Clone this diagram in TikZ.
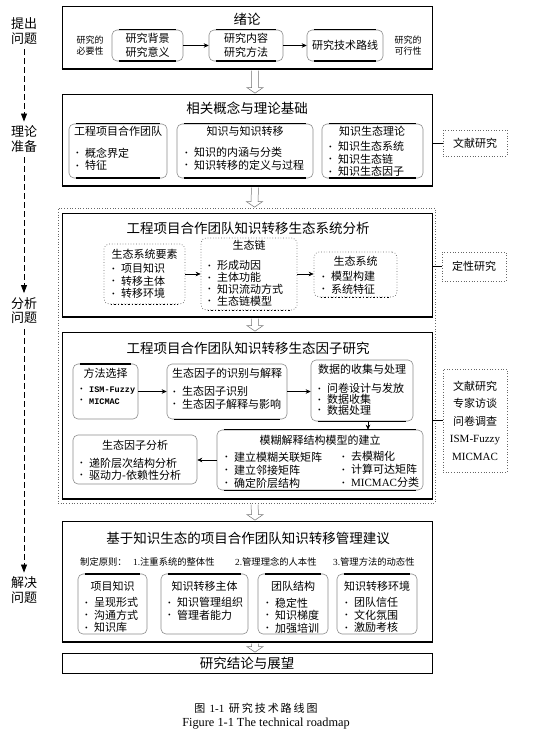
\documentclass[tikz,border=0pt]{standalone}
\usepackage{fontspec}
\setmainfont{Noto Sans CJK SC}
\newfontfamily\lat{Liberation Serif}
\newfontfamily\mono{Liberation Mono}
\newfontfamily\cjkwide[LetterSpace=18]{Noto Sans CJK SC}
\usetikzlibrary{fit,arrows.meta,calc}

\tikzset{
 sec/.style={draw=black, line width=0.7pt, inner sep=0pt},
 sub/.style={draw=black!45, rounded corners=5pt, line width=0.6pt, inner sep=0pt},
 dsub/.style={draw=black!60, dotted, rounded corners=5pt, line width=0.7pt, inner sep=0pt},
 ext/.style={draw=black!60, dotted, line width=0.7pt, inner sep=0pt},
 outerdot/.style={draw=black!60, dotted, line width=0.7pt, inner sep=0pt},
 ttl/.style={font=\fontsize{13.5}{15}\selectfont, inner sep=0pt},
 stl/.style={font=\fontsize{11}{13}\selectfont, inner sep=0pt},
 itm/.style={font=\fontsize{11}{12.5}\selectfont, align=left, anchor=north west, inner sep=0pt},
 sml/.style={font=\fontsize{9}{11}\selectfont, align=center, inner sep=0pt},
 lbl/.style={font=\fontsize{13}{14.5}\selectfont, align=center, inner sep=2pt},
 arr/.style={-{Stealth[length=5pt,width=4.5pt]}, line width=0.6pt},
 flow/.style={dash pattern=on 6pt off 3pt, line width=0.8pt, -{Triangle[length=8pt,width=6pt]}, shorten <=3pt, shorten >=2pt},
 holarrow/.style={draw=black!55, fill=white, line width=0.5pt},
 link/.style={line width=0.8pt},
 blink/.style={line width=1.6pt},
 heavy/.style={line width=1.8pt},
}
\newcommand\bx[6]{\node[#1, fit={(#3,#4) (#5,#6)}] (#2) {};}
\newcommand\topl[2][1.2pt]{\draw[line width=#1] ([xshift=7pt]#2.north west) -- ([xshift=-7pt]#2.north east);}
\newcommand\botl[2][1.6pt]{\draw[line width=#1] ([xshift=7pt]#2.south west) -- ([xshift=-7pt]#2.south east);}
\newcommand\dbotl[1]{\draw[line width=1.5pt, dotted] ([xshift=7pt]#1.south west) -- ([xshift=-7pt]#1.south east);}
\newcommand\hollowarrow[2]{\draw[holarrow] ([xshift=4.5pt,yshift=-1.2pt]#1.south) -- ([xshift=4.5pt,yshift=6pt]#2.north) -- ([xshift=0pt,yshift=6pt]#2.north) -- ([xshift=8pt,yshift=0.5pt]#2.north) -- ([xshift=16pt,yshift=6pt]#2.north) -- ([xshift=11.5pt,yshift=6pt]#2.north) -- ([xshift=11.5pt,yshift=-1.2pt]#1.south);}
\newcommand\bu{\makebox[9pt][l]{\raisebox{1.6pt}{\fontsize{7.5}{7.5}\selectfont\lat\textbullet}}}

\begin{document}
\begin{tikzpicture}[x=1pt,y=-1pt]
\useasboundingbox (0,0) rectangle (541,735);

% ---------- left stage labels ----------
\node[lbl] (L1) at (24,31) {提出\\问题};
\node[lbl] (L2) at (24,139) {理论\\准备};
\node[lbl] (L3) at (24,310.5) {分析\\问题};
\node[lbl] (L4) at (24,590) {解决\\问题};
\draw[flow] (L1.south) -- (L2.north);
\draw[flow] (L2.south) -- (L3.north);
\draw[flow] (L3.south) -- (L4.north);

% ---------- section 1 ----------
\bx{sec}{s1}{62}{6}{432}{69}
\draw[heavy] (s1.south west) -- (s1.south east);
\node[ttl] (t1) at (247,19) {绪论};
\node[sml] (n1a) at (90,45.5) {研究的\\必要性};
\bx{sub}{b11}{112}{30}{183}{61}\topl{b11}\botl{b11}
\node[stl, align=center, font=\fontsize{11}{14}\selectfont] (x11) at (b11) {研究背景\\研究意义};
\bx{sub}{b12}{209}{30}{283}{61}\topl{b12}\botl{b12}
\node[stl, align=center, font=\fontsize{11}{14}\selectfont] (x12) at (b12) {研究内容\\研究方法};
\bx{sub}{b13}{307}{30}{383}{61}\topl{b13}\botl{b13}
\node[stl] (x13) at (b13) {研究技术路线};
\node[sml] (n1b) at (408,45.5) {研究的\\可行性};
\draw[arr] (b11.east) -- (b12.west);
\draw[arr] (b12.east) -- (b13.west);

% ---------- section 2 ----------
\bx{sec}{s2}{62}{94}{432}{186}
\draw[heavy] (s2.south west) -- (s2.south east);
\node[ttl] (t2) at (247,108) {相关概念与理论基础};
\bx{sub}{b21}{69}{124}{167}{178}\topl[0.9pt]{b21}\botl{b21}
\node[stl] (x21) at (118,131) {工程项目合作团队};
\node[itm] (i21) at (76,147.5) {\bu 概念界定\\\bu 特征};
\bx{sub}{b22}{177}{124}{313}{178}\topl[0.9pt]{b22}\botl{b22}
\node[stl] (x22) at (245,131) {知识与知识转移};
\node[itm] (i22) at (185,147.5) {\bu 知识的内涵与分类\\\bu 知识转移的定义与过程};
\bx{sub}{b23}{322}{124}{423}{178}\topl[0.9pt]{b23}\botl{b23}
\node[stl] (x23) at (372,131) {知识生态理论};
\node[itm] (i23) at (329,141.5) {\bu 知识生态系统\\\bu 知识生态链\\\bu 知识生态因子};
\bx{ext}{wx}{443}{130}{507}{156}
\node[stl] (wxt) at (wx) {文献研究};
\draw[link] (wx.west) -- (wx.west -| s2.east);

% ---------- section 3 (dotted group) ----------
\bx{outerdot}{s3}{58}{208}{435}{503}
\bx{sec}{s3a}{62}{213}{432}{317}
\draw[heavy] (s3a.south west) -- (s3a.south east);
\node[ttl] (t3a) at (248,228) {工程项目合作团队知识转移生态系统分析};
\bx{dsub}{b31}{104}{244}{185}{304}\dbotl{b31}
\node[stl] (x31) at (144.5,254) {生态系统要素};
\node[itm] (i31) at (112,263.5) {\bu 项目知识\\\bu 转移主体\\\bu 转移环境};
\bx{dsub}{b32}{201}{238}{297}{310}\dbotl{b32}
\node[stl] (x32) at (249,245) {生态链};
\node[itm, font=\fontsize{11}{11.8}\selectfont] (i32) at (208,260.5) {\bu 形成动因\\\bu 主体功能\\\bu 知识流动方式\\\bu 生态链模型};
\bx{dsub}{b33}{314}{252}{397}{297}\dbotl{b33}
\node[stl] (x33) at (355.5,261) {生态系统};
\node[itm] (i33) at (322,271.5) {\bu 模型构建\\\bu 系统特征};
\draw[arr] (b31.east) -- (b31.east -| b32.west);
\draw[arr] (b31.east -| b32.east) -- (b31.east -| b33.west);
\bx{ext}{dx}{442}{252}{506}{281}
\node[stl] (dxt) at (dx) {定性研究};
\draw[blink] (dx.west) -- (dx.west -| s3a.east);

\bx{sec}{s3b}{62}{332}{432}{499}
\draw[heavy] (s3b.south west) -- (s3b.south east);
\node[ttl] (t3b) at (248,348) {工程项目合作团队知识转移生态因子研究};
\bx{sub}{b41}{73}{364}{138}{419}\topl[1.6pt]{b41}
\node[stl] (x41) at (105.5,373) {方法选择};
\node[itm, font=\fontsize{8.5}{11.5}\selectfont] (i41) at (80,387) {\bu{\mono\bfseries ISM-Fuzzy}\\\bu{\mono\bfseries MICMAC}};
\bx{sub}{b42}{167}{364}{287}{419}\botl{b42}
\node[stl] (x42) at (227,373) {生态因子的识别与解释};
\node[itm] (i42) at (173,386.5) {\bu 生态因子识别\\\bu 生态因子解释与影响};
\bx{sub}{b43}{311}{360}{413}{421}\botl{b43}
\node[stl] (x43) at (362,369) {数据的收集与处理};
\node[itm, font=\fontsize{11}{10.8}\selectfont] (i43) at (318,383.5) {\bu 问卷设计与发放\\\bu 数据收集\\\bu 数据处理};
\bx{sub}{b44}{217}{430}{423}{490}\topl[0.8pt]{b44}\botl{b44}
\node[stl] (x44) at (320,440) {模糊解释结构模型的建立};
\node[itm, font=\fontsize{11}{13}\selectfont] (i44a) at (225,451.5) {\bu 建立模糊关联矩阵\\\bu 建立邻接矩阵\\\bu 确定阶层结构};
\node[itm, font=\fontsize{11}{13}\selectfont] (i44b) at (342,451.5) {\bu 去模糊化\\\bu 计算可达矩阵\\\bu {\lat MICMAC}分类};
\bx{sub}{b45}{73}{435}{197}{484}
\node[stl] (x45) at (135,445) {生态因子分析};
\node[itm] (i45) at (80,457.5) {\bu 递阶层次结构分析\\\bu 驱动力-依赖性分析};
\draw[arr] (b41.east) -- (b41.east -| b42.west);
\draw[arr] (b41.east -| b42.east) -- (b41.east -| b43.west);
\draw[arr] ([xshift=6pt]b43.south) -- ([xshift=6pt]b43.south |- b44.north);
\draw[arr] (b44.west) -- (b44.west -| b45.east);
\bx{ext}{rx}{443}{369}{507}{472}
\node[stl, align=center, font=\fontsize{11}{17.5}\selectfont] (rxt) at (rx) {文献研究\\专家访谈\\问卷调查\\{\lat ISM-Fuzzy}\\{\lat MICMAC}};
\draw[link] (rx.west) -- (rx.west -| s3b.east);

% ---------- section 4 ----------
\bx{sec}{s4}{62}{521}{432}{642}
\draw[heavy] (s4.south west) -- (s4.south east);
\node[ttl] (t4) at (248,538) {基于知识生态的项目合作团队知识转移管理建议};
\node[sml, anchor=west, font=\fontsize{9.3}{11}\selectfont] (p0) at (80,562) {制定原则：};
\node[sml, anchor=west, font=\fontsize{9.3}{11}\selectfont] (p1) at (133,562) {{\lat 1.}注重系统的整体性};
\node[sml, anchor=west, font=\fontsize{9.3}{11}\selectfont] (p2) at (235,562) {{\lat 2.}管理理念的人本性};
\node[sml, anchor=west, font=\fontsize{9.3}{11}\selectfont] (p3) at (333,562) {{\lat 3.}管理方法的动态性};
\bx{sub}{b51}{78}{574}{147}{634}\topl[1.6pt]{b51}
\node[stl] (x51) at (112.5,586) {项目知识};
\node[itm] (i51) at (85,597.5) {\bu 呈现形式\\\bu 沟通方式\\\bu 知识库};
\bx{sub}{b52}{161}{574}{248}{634}\topl[1.6pt]{b52}
\node[stl] (x52) at (204.5,586) {知识转移主体};
\node[itm] (i52) at (168,597.5) {\bu 知识管理组织\\\bu 管理者能力};
\bx{sub}{b53}{258}{574}{328}{634}\topl[1.6pt]{b53}
\node[stl] (x53) at (293,586) {团队结构};
\node[itm] (i53) at (266,597.5) {\bu 稳定性\\\bu 知识梯度\\\bu 加强培训};
\bx{sub}{b54}{337}{574}{417}{634}\topl[1.6pt]{b54}
\node[stl] (x54) at (377,586) {知识转移环境};
\node[itm] (i54) at (345,597.5) {\bu 团队信任\\\bu 文化氛围\\\bu 激励考核};

% ---------- section 5 ----------
\bx{sec}{s5}{62}{653}{432}{673}
\node[ttl] (t5) at (s5) {研究结论与展望};

% ---------- hollow arrows between sections ----------
\hollowarrow{s1}{s2}
\hollowarrow{s2}{s3}
\hollowarrow{s3a}{s3b}
\hollowarrow{s3}{s4}
\hollowarrow{s4}{s5}

% ---------- caption ----------
\node[font=\fontsize{11}{13}\selectfont\cjkwide, inner sep=0pt] (c1) at (256,708) {图 {\lat 1-1} 研究技术路线图};
\node[font=\fontsize{12.3}{13}\selectfont\lat, inner sep=0pt] (c2) at (266,724) {Figure 1-1 The technical roadmap};
\end{tikzpicture}
\end{document}
